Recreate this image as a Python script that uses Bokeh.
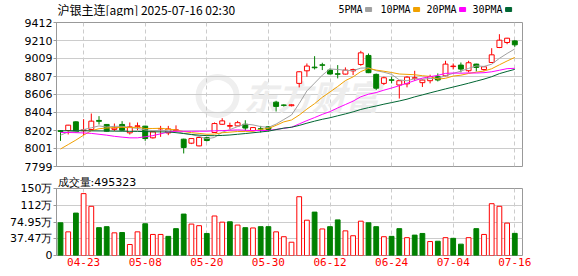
from bokeh.plotting import figure
from bokeh.layouts import column
from bokeh.models import FixedTicker, Range1d, Label, ColumnDataSource
from bokeh.core.properties import value
from bokeh.embed import file_html
from bokeh.resources import INLINE

# ---------------- data ----------------
dates = ["04-18", "04-21", "04-22", "04-23", "04-24", "04-25", "04-28", "04-29", "04-30",
         "05-06", "05-07", "05-08", "05-09", "05-12", "05-13", "05-14", "05-15", "05-16",
         "05-19", "05-20", "05-21", "05-22", "05-23", "05-26", "05-27", "05-28", "05-29",
         "05-30", "06-03", "06-04", "06-05", "06-06", "06-09", "06-10", "06-11", "06-12",
         "06-13", "06-16", "06-17", "06-18", "06-19", "06-20", "06-23", "06-24", "06-25",
         "06-26", "06-27", "06-30", "07-01", "07-02", "07-03", "07-04", "07-07", "07-08",
         "07-09", "07-10", "07-11", "07-14", "07-15", "07-16"]

open_ = [8200, 8202, 8299, 8200, 8213, 8315, 8270, 8215, 8270, 8176,
         8248, 8251, 8120, 8220, 8175, 8200, 8105, 8060, 8030, 8122,
         8180, 8272, 8250, 8254, 8272, 8200, 8222, 8245, 8520, 8488,
         8480, 8730, 8871, 8912, 8938, 8879, 8838, 8834, 8870, 8942,
         9043, 8831, 8730, 8770, 8712, 8725, 8788, 8738, 8760, 8805,
         8816, 8918, 8935, 8872, 8946, 8885, 8964, 9132, 9188, 9206]
high = [8205, 8265, 8305, 8329, 8392, 8363, 8275, 8280, 8307, 8292,
        8292, 8255, 8195, 8254, 8254, 8260, 8110, 8118, 8130, 8128,
        8292, 8340, 8290, 8310, 8317, 8240, 8254, 8252, 8535, 8495,
        8496, 8865, 8953, 9035, 8961, 8898, 8935, 8909, 8895, 9095,
        9065, 8840, 8805, 8805, 8765, 8810, 8871, 8775, 8827, 8842,
        8983, 8953, 8964, 8983, 8950, 8925, 9124, 9281, 9240, 9215]
low = [8086, 8158, 8180, 8150, 8205, 8269, 8190, 8195, 8200, 8157,
       8206, 8086, 8112, 8131, 8150, 8190, 7945, 8050, 8025, 8080,
       8175, 8265, 8220, 8250, 8200, 8195, 8180, 8190, 8415, 8470,
       8472, 8685, 8805, 8886, 8879, 8830, 8786, 8830, 8823, 8927,
       8845, 8656, 8712, 8730, 8560, 8686, 8760, 8690, 8730, 8752,
       8810, 8886, 8853, 8853, 8864, 8870, 8960, 9125, 9169, 9140]
close = [8192, 8262, 8187, 8210, 8307, 8305, 8195, 8230, 8206, 8243,
         8255, 8112, 8187, 8225, 8220, 8210, 8012, 8112, 8124, 8090,
         8280, 8310, 8258, 8290, 8230, 8235, 8218, 8214, 8472, 8484,
         8490, 8860, 8924, 8905, 8933, 8835, 8832, 8879, 8885, 9072,
         8850, 8676, 8793, 8765, 8760, 8800, 8793, 8767, 8805, 8768,
         8946, 8924, 8890, 8961, 8909, 8916, 9050, 9214, 9236, 9162]

# volume in 万 (10k lots)
volume = [73.2, 52.9, 94.9, 138.4, 110.1, 62.3, 64.5, 50.7, 51.4, 24.6,
          52.9, 71.0, 47.1, 47.1, 42.8, 60.1, 92.7, 70.3, 66.7, 49.3,
          88.4, 74.6, 75.4, 68.1, 62.3, 61.6, 64.5, 64.5, 52.9, 42.0,
          29.7, 131.5, 79.0, 97.1, 59.4, 64.5, 79.7, 55.1, 44.2, 76.8,
          73.2, 64.5, 42.0, 42.8, 60.1, 39.9, 45.6, 49.3, 31.2, 31.9,
          39.9, 38.4, 25.4, 39.9, 60.1, 47.1, 115.9, 110.1, 72.5, 49.5323]
# 1 = red (up) volume bar, 0 = green (down)
vol_up = [0, 1, 0, 1, 1, 0, 0, 1, 0, 1, 1, 0, 1, 1, 0, 0, 0, 1, 1, 0,
          1, 1, 0, 1, 0, 1, 0, 0, 1, 1, 1, 1, 1, 0, 1, 0, 0, 1, 1, 1,
          0, 0, 1, 0, 0, 1, 0, 0, 1, 0, 1, 0, 0, 1, 0, 1, 1, 1, 1, 0]

ma5 = [8150, 8185, 8195, 8213, 8232, 8254, 8241, 8249, 8249, 8236,
       8226, 8209, 8201, 8204, 8200, 8191, 8171, 8156, 8136, 8110,
       8124, 8183, 8212, 8246, 8274, 8265, 8246, 8237, 8274, 8325,
       8376, 8504, 8646, 8733, 8822, 8891, 8886, 8877, 8873, 8901,
       8904, 8872, 8855, 8831, 8769, 8759, 8782, 8777, 8785, 8787,
       8816, 8842, 8867, 8898, 8926, 8920, 8945, 9010, 9065, 9116]
ma10 = [7995, 8045, 8095, 8150, 8200, 8222, 8230, 8235, 8238, 8234,
        8240, 8225, 8225, 8227, 8218, 8208, 8190, 8178, 8170, 8160,
        8162, 8177, 8184, 8191, 8192, 8194, 8215, 8225, 8260, 8299,
        8320, 8375, 8442, 8503, 8574, 8634, 8695, 8761, 8803, 8862,
        8898, 8879, 8866, 8852, 8835, 8831, 8827, 8816, 8808, 8778,
        8787, 8812, 8822, 8841, 8856, 8868, 8894, 8938, 8981, 9021]
ma20 = [8180, 8180, 8178, 8175, 8170, 8160, 8150, 8137, 8128, 8120,
        8120, 8132, 8145, 8165, 8185, 8195, 8193, 8193, 8194, 8194,
        8199, 8201, 8205, 8209, 8205, 8201, 8202, 8202, 8215, 8227,
        8239, 8276, 8313, 8347, 8383, 8414, 8455, 8493, 8531, 8580,
        8609, 8627, 8654, 8678, 8704, 8732, 8761, 8789, 8805, 8820,
        8842, 8846, 8844, 8847, 8846, 8850, 8860, 8877, 8895, 8899]
ma30 = [8198, 8200, 8200, 8199, 8198, 8197, 8196, 8195, 8194, 8193,
        8192, 8190, 8188, 8187, 8186, 8178, 8168, 8158, 8150, 8145,
        8144, 8147, 8152, 8160, 8168, 8177, 8186, 8195, 8212, 8229,
        8239, 8259, 8284, 8307, 8328, 8345, 8367, 8388, 8411, 8438,
        8458, 8477, 8497, 8515, 8533, 8553, 8579, 8601, 8624, 8646,
        8668, 8689, 8710, 8732, 8755, 8778, 8805, 8839, 8864, 8887]

price_ticks = [7799, 8001, 8202, 8404, 8606, 8807, 9009, 9210, 9412]
vol_ticks = [0, 37.47, 74.95, 112.42, 149.9]
vol_tick_labels = ["0", "37.47万", "74.95万", "112万", "150万"]
label_every = 8
title_text = "沪银主连[agm] 2025-07-16 02:30"
ma_names = ["5PMA", "10PMA", "20PMA", "30PMA"]

# ---------------- styling ----------------
RED = "#ff0000"
GREEN = "#008000"
GRID = "#cccccc"
BORDER = "#999999"
MA_COLORS = ["#a0a0a0", "#f0a000", "#ff00ff", "#006633"]
W = 578
LEFT, RIGHT = 56, 56
N = len(close)
xs = list(range(N))
label_idx = [i for i in range(N) if (N - 1 - i) % label_every == 0]
xr = Range1d(-0.52, N)

# ---------------- header strip (title + MA legend); pixel-like coords ----------------
HDR_H = 16
h = figure(width=W, height=HDR_H, x_range=Range1d(LEFT, W - RIGHT), y_range=Range1d(0, HDR_H),
           x_axis_location=None, y_axis_location=None, output_backend="svg",
           toolbar_location=None, min_border_left=LEFT, min_border_right=RIGHT,
           min_border_top=0, min_border_bottom=0)
h.outline_line_color = None
h.grid.visible = False
h.text(x=[57], y=[HDR_H - 8.5], text=[title_text],
       text_font=value("Noto Sans CJK SC"),
       text_font_size="12px", text_color="#000000", text_baseline="middle")
legend_x = [338, 380, 426, 472]
h.text(x=legend_x, y=[HDR_H - 8.5] * len(ma_names), text=ma_names,
       text_font=value("DejaVu Sans Mono"), text_font_size="10px",
       text_color="#000000", text_baseline="middle")
sq_left = [lx + 6.02 * len(nm) + 3 for lx, nm in zip(legend_x, ma_names)]
sq_src = ColumnDataSource(dict(left=sq_left, right=[s + 6 for s in sq_left],
                               top=[HDR_H - 7] * 4, bottom=[HDR_H - 11] * 4,
                               color=MA_COLORS))
h.quad(left="left", right="right", top="top", bottom="bottom",
       fill_color="color", line_color="color", source=sq_src)

# ---------------- price panel ----------------
P_TOP, P_H, P_BOTTOM = 6, 144, 7
p = figure(width=W, height=P_TOP + P_H + P_BOTTOM, x_range=xr,
           y_range=Range1d(price_ticks[0], price_ticks[-1]),
           x_axis_location=None, output_backend="svg", toolbar_location=None,
           min_border_left=LEFT, min_border_right=RIGHT,
           min_border_top=P_TOP, min_border_bottom=P_BOTTOM)
p.outline_line_color = BORDER
ya = p.yaxis[0]
ya.ticker = FixedTicker(ticks=price_ticks)
ya.major_label_overrides = {t: str(t) for t in price_ticks}
ya.axis_line_color = BORDER
ya.major_tick_line_color = BORDER
ya.major_tick_out = 3
ya.major_tick_in = 0
ya.minor_tick_line_color = None
ya.major_label_standoff = 1
ya.major_label_text_font = "DejaVu Sans"
ya.major_label_text_font_size = "11px"
ya.major_label_text_color = "#000000"
p.ygrid.ticker = FixedTicker(ticks=price_ticks)
p.ygrid.grid_line_color = GRID
p.xgrid.ticker = FixedTicker(ticks=label_idx)
p.xgrid.grid_line_color = GRID
p.xgrid.grid_line_dash = "4 3"

# watermark
p.scatter(x=[20.4], y=[8590], size=38, marker="circle", fill_color=None,
          line_color="#efefef", line_width=6, level="underlay")
p.add_layout(Label(x=23.8, y=8598, text="东方财富", text_font="Noto Sans CJK SC",
                   text_font_size="34px", text_font_style="bold italic",
                   text_color="#ededed", text_baseline="middle", level="underlay"))

up = [c >= o for o, c in zip(open_, close)]
csrc = ColumnDataSource(dict(
    x=xs, high=high, low=low,
    top=[max(o, c) for o, c in zip(open_, close)],
    bottom=[min(o, c) for o, c in zip(open_, close)],
    line=[RED if u else GREEN for u in up],
    fill=["white" if u else GREEN for u in up],
))
p.segment(x0="x", y0="high", x1="x", y1="low", line_color="line", line_width=1, source=csrc)
p.vbar(x="x", top="top", bottom="bottom", width=0.64, fill_color="fill",
       line_color="line", line_width=1, source=csrc)

for ma, col in zip([ma5, ma10, ma20, ma30], MA_COLORS):
    p.line(xs, ma, line_color=col, line_width=1)

# ---------------- volume panel ----------------
V_TOP, V_H, V_BOTTOM = 13, 69, 21
v = figure(width=W, height=V_TOP + V_H + V_BOTTOM, x_range=xr,
           y_range=Range1d(vol_ticks[0], vol_ticks[-1]),
           title="成交量:" + str(int(round(volume[-1] * 10000))), title_location="above",
           output_backend="svg", toolbar_location=None,
           min_border_left=LEFT, min_border_right=RIGHT,
           min_border_top=V_TOP, min_border_bottom=V_BOTTOM)
v.title.align = "left"
v.title.offset = 1
v.title.standoff = 0
v.title.text_font = "DejaVu Sans"
v.title.text_font_size = "11px"
v.title.text_font_style = "normal"
v.title.text_color = "#000000"
v.outline_line_color = BORDER
vy = v.yaxis[0]
vy.ticker = FixedTicker(ticks=vol_ticks)
vy.major_label_overrides = {t: s for t, s in zip(vol_ticks, vol_tick_labels)}
vy.axis_line_color = BORDER
vy.major_tick_line_color = BORDER
vy.major_tick_out = 3
vy.major_tick_in = 0
vy.minor_tick_line_color = None
vy.major_label_standoff = 1
vy.major_label_text_font = "DejaVu Sans"
vy.major_label_text_font_size = "11px"
vy.major_label_text_color = "#000000"
vx = v.xaxis[0]
vx.ticker = FixedTicker(ticks=label_idx)
vx.major_label_overrides = {i: dates[i] for i in label_idx}
vx.axis_line_color = None
vx.major_tick_line_color = None
vx.minor_tick_line_color = None
vx.major_tick_out = 0
vx.major_label_standoff = 2
vx.major_label_text_font = "DejaVu Sans Mono"
vx.major_label_text_font_size = "11px"
vx.major_label_text_color = RED
v.ygrid.ticker = FixedTicker(ticks=vol_ticks)
v.ygrid.grid_line_color = GRID
v.xgrid.ticker = FixedTicker(ticks=label_idx)
v.xgrid.grid_line_color = GRID
v.xgrid.grid_line_dash = "4 3"

vsrc = ColumnDataSource(dict(
    x=xs, top=volume,
    line=[RED if u else GREEN for u in vol_up],
    fill=["white" if u else GREEN for u in vol_up],
))
v.vbar(x="x", top="top", bottom=0, width=0.62, fill_color="fill", line_color="line",
       line_width=1, source=vsrc)

layout = column(h, p, v, spacing=0)
open("out.html", "w").write(file_html(layout, INLINE))
